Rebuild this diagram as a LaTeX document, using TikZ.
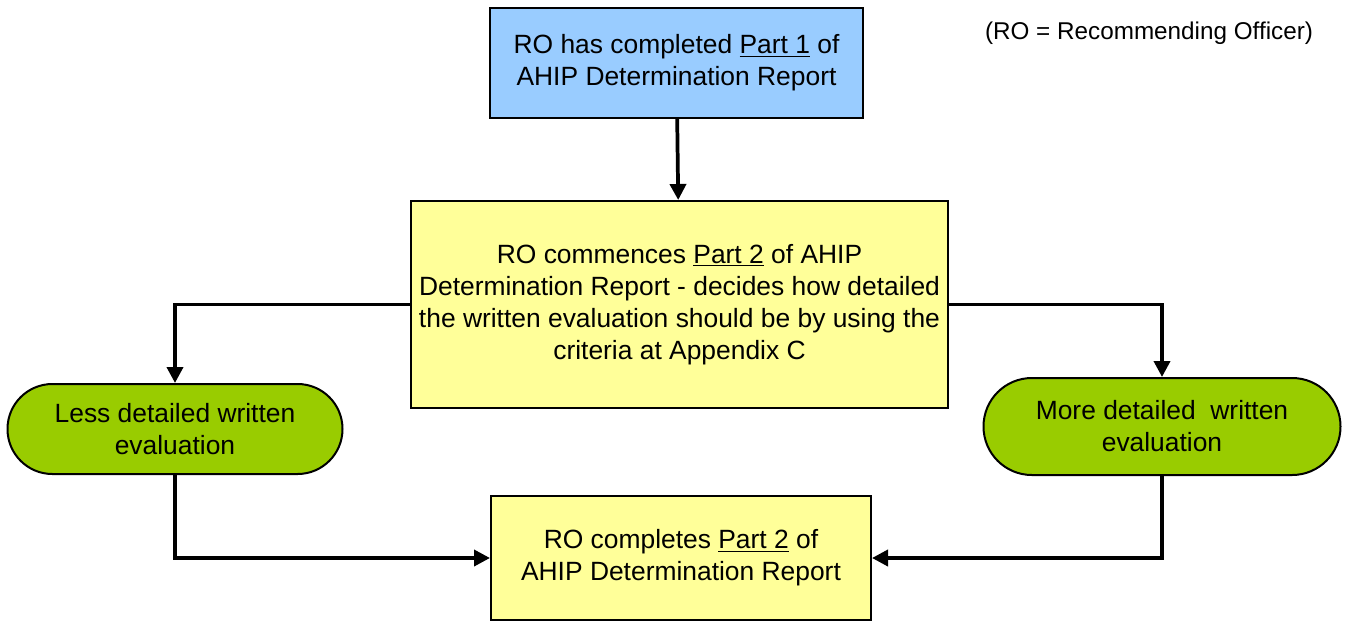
\documentclass[tikz,border=0pt]{standalone}
\usepackage{fontspec}
\setmainfont{Liberation Sans}
\usetikzlibrary{arrows.meta}
\definecolor{boxblue}{HTML}{99CCFF}
\definecolor{boxyellow}{HTML}{FFFF99}
\definecolor{boxgreen}{HTML}{99CC00}
\begin{document}
\begin{tikzpicture}[x=0.75pt,y=-0.75pt,
  every node/.style={font=\fontsize{19.8pt}{24pt}\selectfont, align=center, inner sep=0pt},
  procbox/.style={draw=black, line width=1.5pt, rectangle},
  pill/.style={draw=black, line width=1.5pt, rectangle, fill=boxgreen},
  conn/.style={line width=2.8pt, -{Triangle[length=12pt,width=12pt]}}
]
\useasboundingbox (0,0) rectangle (1346,622);
\node[procbox, fill=boxblue, minimum width=279.75pt, minimum height=82.5pt] (top) at (676.5,63)
  {RO has completed \underline{Part 1} of\\AHIP Determination Report};
\node[procbox, fill=boxyellow, minimum width=402.75pt, minimum height=155.25pt] (mid) at (679.5,304.5)
  {\raisebox{0pt}{}RO commences \underline{Part 2} of AHIP\\Determination Report - decides how detailed\\the written evaluation should be by using the\\criteria at Appendix C};
\node[pill, minimum width=251.25pt, minimum height=67.5pt, rounded corners=33.7pt] (lp) at (175,429)
  {Less detailed written\\evaluation};
\node[pill, minimum width=267.75pt, minimum height=72.75pt, rounded corners=36.3pt] (rp) at (1162,426.5)
  {More detailed\ \ written\\evaluation};
\node[procbox, fill=boxyellow, minimum width=285pt, minimum height=93pt] (bot) at (681,558)
  {RO completes \underline{Part 2} of\\AHIP Determination Report};
\node[font=\fontsize{18.2pt}{22pt}\selectfont] (note) at (1149,33) {(RO = Recommending Officer)};
\draw[conn] (top) -- (mid);
\draw[conn] (mid.west) -| (lp.north);
\draw[conn] (mid.east) -| (rp.north);
\draw[conn] (lp.south) |- (bot.west);
\draw[conn] (rp.south) |- (bot.east);
\end{tikzpicture}
\end{document}
